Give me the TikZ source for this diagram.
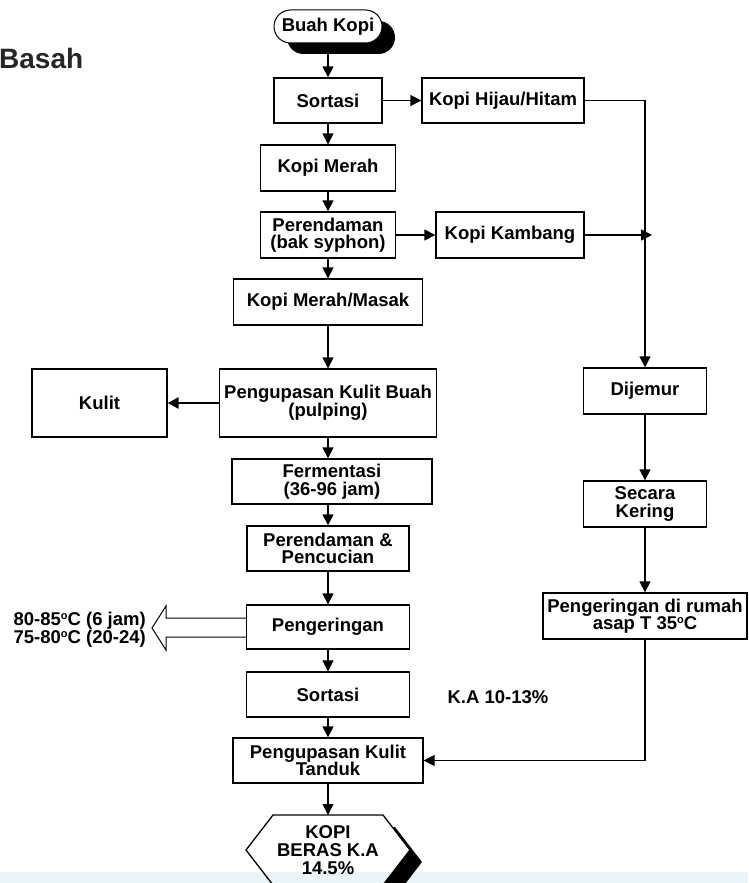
\documentclass[tikz,border=0pt]{standalone}
\usepackage{fontspec}
\setmainfont{Liberation Sans}
\usepackage{tikz}
\usetikzlibrary{arrows.meta}
\definecolor{stripblue}{RGB}{234,245,249}
\newcommand{\drj}{\raisebox{0.33em}{\fontsize{11}{11}\selectfont o}}

\begin{document}
\begin{tikzpicture}[x=1pt, y=-1pt,
	box/.style = {draw, line width=1.3pt, fill=white, align=center, inner sep=0pt, font=\bfseries\fontsize{18.5}{17.5}\selectfont},
	lbl/.style = {align=center, inner sep=0pt, font=\bfseries\fontsize{18.5}{18}\selectfont},
	arr/.style = {line width=1.3pt, -{Triangle[length=11pt,width=11pt]}}]

	\useasboundingbox (0,0) rectangle (748,883);

	\node[anchor=base west, inner sep=0pt, font=\bfseries\fontsize{28}{28}\selectfont, text=black!85] (judul) at (-1,69) {Basah};

	\fill[rounded corners=16.5pt] (287,21) rectangle (395,54);
	\node[box, line width=1pt, minimum width=108, minimum height=33, rounded corners=16.5pt] (buah) at (328,26.5) {Buah Kopi};

	\node[box, minimum width=108, minimum height=45] (sort1) at (328,100.5) {Sortasi};
	\node[box, minimum width=162, minimum height=45] (hijau) at (503,100.5) {Kopi Hijau/Hitam};
	\node[box, minimum width=135, minimum height=46] (merah) at (328,168) {Kopi Merah};
	\node[box, minimum width=135, minimum height=46] (rendam) at (328,235) {Perendaman\\(bak syphon)};
	\node[box, minimum width=148, minimum height=46] (kambang) at (510,235) {Kopi Kambang};
	\node[box, minimum width=189, minimum height=46] (masak) at (328,302) {Kopi Merah/Masak};
	\node[box, minimum width=217, minimum height=68] (pulping) at (328,403) {Pengupasan Kulit Buah\\(pulping)};
	\node[box, minimum width=135, minimum height=68] (kulit) at (99.5,403) {Kulit};
	\node[box, minimum width=200, minimum height=45] (ferm) at (332,481.5) {Fermentasi\\(36-96 jam)};
	\node[box, minimum width=162, minimum height=45] (cuci) at (328,548.5) {Perendaman \&\\Pencucian};
	\node[box, minimum width=163, minimum height=44] (kering) at (328,627) {Pengeringan};
	\node[box, minimum width=163, minimum height=45] (sort2) at (328,694.5) {Sortasi};
	\node[box, minimum width=190, minimum height=45] (tanduk) at (328,760.5) {Pengupasan Kulit\\Tanduk};

	\node[box, minimum width=123, minimum height=46] (jemur) at (645,391) {Dijemur};
	\node[box, minimum width=123, minimum height=46] (secara) at (645,504) {Secara\\Kering};
	\node[box, minimum width=204, minimum height=46] (asap) at (645,616) {Pengeringan di rumah\\asap T 35\drj C};

	\node[lbl] (ka) at (498,697) {K.A 10-13\%};
	\node[lbl, anchor=east, align=right] (suhu) at (146,630) {80-85\drj C (6 jam)\\75-80\drj C (20-24)};

	\fill (285,827) -- (395,827) -- (422,862) -- (395,897) -- (285,897) -- (258,862) -- cycle;
	\draw[line width=1.3pt, fill=white] (273,815) -- (383,815) -- (410,850) -- (383,885) -- (273,885) -- (246,850) -- cycle;
	\node[lbl] (beras) at (328,850) {KOPI\\BERAS K.A\\14.5\%};
	\coordinate (berastop) at (328,815);

	\draw[arr] (buah) -- (sort1);
	\draw[arr] (sort1) -- (merah);
	\draw[arr] (sort1) -- (hijau);
	\draw[arr] (merah) -- (rendam);
	\draw[arr] (rendam) -- (kambang);
	\draw[arr] (rendam) -- (masak);
	\draw[arr] (masak) -- (pulping);
	\draw[arr, line width=2.4pt] (pulping) -- (kulit);
	\draw[arr] (pulping.south) -- (pulping.south |- ferm.north);
	\draw[arr] (cuci.north |- ferm.south) -- (cuci.north);
	\draw[arr] (cuci) -- (kering);
	\draw[arr] (kering) -- (sort2);
	\draw[arr] (sort2) -- (tanduk);
	\draw[arr] (tanduk) -- (berastop);

	\draw[arr] (hijau.east) -| (jemur.north);
	\coordinate (gabung) at (jemur.north |- kambang.east);
	\draw[arr] (kambang.east) -- ([xshift=7pt]gabung);
	\draw[arr] (jemur) -- (secara);
	\draw[arr] (secara) -- (asap);
	\draw[arr] (asap.south) |- (tanduk.east);

	\draw[line width=1pt] ([yshift=9pt]kering.west) -- (166,618) -- (166,606) -- (152,628) -- (166,650) -- (166,637) -- ([yshift=-10pt]kering.west);

	\fill[stripblue, blend mode=multiply] (0,872) rectangle (748,883);

\end{tikzpicture}
\end{document}
